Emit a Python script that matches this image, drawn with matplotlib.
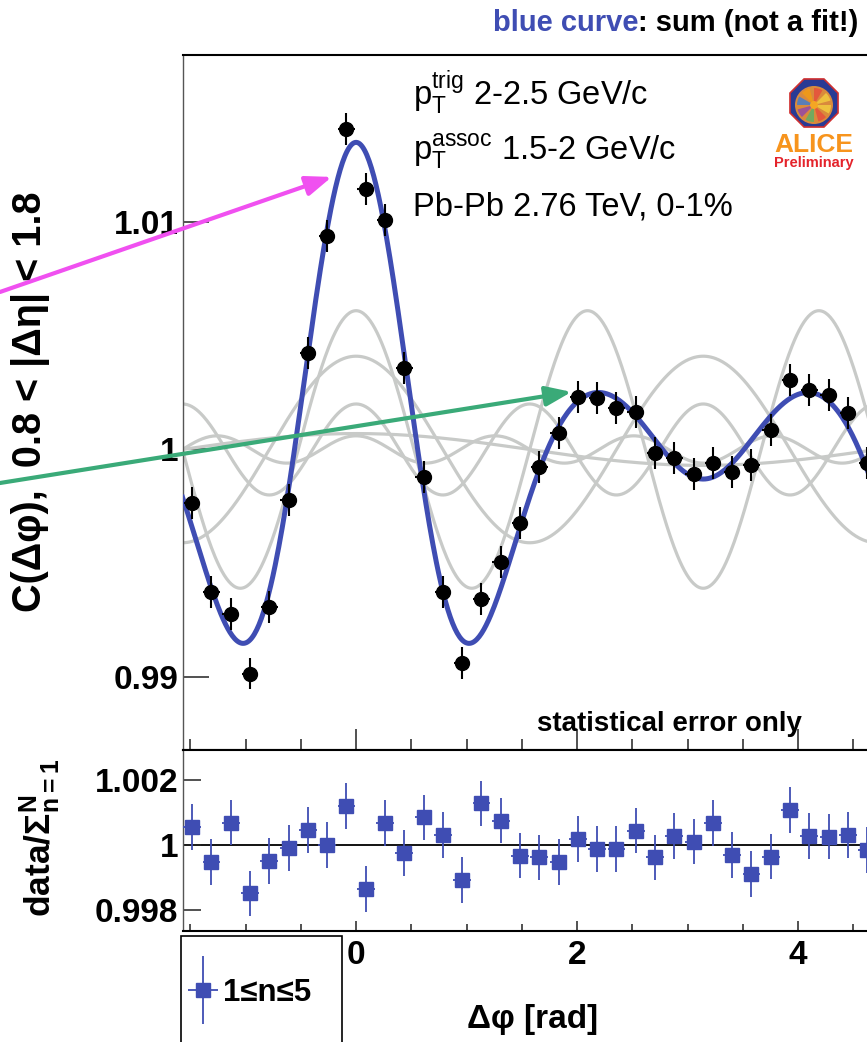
import numpy as np
import matplotlib
matplotlib.use('Agg')
import matplotlib.pyplot as plt
from matplotlib.patches import Rectangle, Circle, RegularPolygon, Wedge
from matplotlib.ticker import MultipleLocator, FixedLocator
from matplotlib.container import ErrorbarContainer
from matplotlib.legend_handler import HandlerErrorbar

plt.rcParams['font.family'] = ['Liberation Sans', 'DejaVu Sans']
plt.rcParams['mathtext.default'] = 'regular'

W, H = 867, 1042

# 36 bins between -pi/2 and 3pi/2
n_bins = 36
bin_edges = np.linspace(-np.pi / 2, 3 * np.pi / 2, n_bins + 1)
dphi = 0.5 * (bin_edges[:-1] + bin_edges[1:])

# C(dphi) data points
corr_val = [0.99764, 0.99375, 0.99277, 0.99015, 0.99309, 0.99778, 1.00425, 1.00938,
            1.01407, 1.01145, 1.01009, 1.00357, 0.99880, 0.99375, 0.99060, 0.99342,
            0.99507, 0.99678, 0.99924, 1.00071, 1.00232, 1.00225, 1.00181, 1.00166,
            0.99983, 0.99961, 0.99892, 0.99939, 0.99902, 0.99932, 1.00086, 1.00305,
            1.00262, 1.00240, 1.00159, 0.99942]
corr_err = [0.0007] * n_bins

# data / sum of harmonics
ratio_val = [1.00056, 0.99947, 1.00069, 0.99851, 0.99951, 0.99990, 1.00046, 1.00000,
             1.00120, 0.99864, 1.00067, 0.99976, 1.00085, 1.00031, 0.99892, 1.00128,
             1.00075, 0.99967, 0.99962, 0.99947, 1.00019, 0.99988, 0.99988, 1.00044,
             0.99962, 1.00028, 1.00010, 1.00067, 0.99969, 0.99911, 0.99964, 1.00108,
             1.00028, 1.00026, 1.00031, 0.99985]
ratio_err = [0.0007] * n_bins

# Fourier components 2 V_n cos(n dphi), n = 1..5
harm_order = [1, 2, 3, 4, 5]
harm_amp = [0.0007, 0.0041, 0.0061, 0.0020, 0.0006]

blue = '#3f4db3'
grey = '#c8cac8'


def px_rect(x0, y0, x1, y1):
    # pixel box (from top left) -> figure fraction rect
    return [x0 / W, 1 - y1 / H, (x1 - x0) / W, (y1 - y0) / H]


fig = plt.figure(figsize=(W / 100, H / 100), dpi=100)
ax = fig.add_axes(px_rect(182.5, 55, 876.8, 750))
axr = fig.add_axes(px_rect(182.5, 750, 876.8, 930.5))

# harmonics and their sum
phi_fine = np.linspace(-np.pi / 2, 3 * np.pi / 2, 600)
total = np.ones_like(phi_fine)
for n, a in zip(harm_order, harm_amp):
    comp = a * np.cos(n * phi_fine)
    ax.plot(phi_fine, 1 + comp, color=grey, lw=2.3, zorder=2)
    total += comp
ax.plot(phi_fine, total, color=blue, lw=3.6, zorder=3)

ax.errorbar(dphi, corr_val, yerr=corr_err, xerr=0.075, fmt='o', color='black',
            ms=10, elinewidth=1.5, capsize=0, zorder=5)

axr.axhline(1, color='black', lw=1.3, zorder=1)
eb = axr.errorbar(dphi, ratio_val, yerr=ratio_err, xerr=0.08, fmt='s', color=blue,
                  ms=10, elinewidth=1.3, capsize=0, zorder=5)

# axes cosmetics
for a in (ax, axr):
    a.set_xlim(-np.pi / 2, 3 * np.pi / 2)
    a.xaxis.set_major_locator(FixedLocator([0, 2, 4]))
    a.xaxis.set_minor_locator(MultipleLocator(0.5))
    a.spines['right'].set_visible(False)
    a.spines['left'].set_linewidth(1.0)
    a.spines['left'].set_color('#555555')
    a.spines['top'].set_linewidth(1.5)
    a.spines['bottom'].set_linewidth(1.5)
    a.tick_params(which='both', direction='in', top=False, right=False,
                  color='#222222', width=1.1)

ax.set_ylim(0.98679, 1.01734)
axr.set_ylim(0.997369, 1.002923)

ax.tick_params(axis='x', which='major', length=15, labelbottom=False)
ax.tick_params(axis='x', which='minor', length=8)
ax.set_yticks([0.99, 1.0, 1.01], labels=['0.99', '1', '1.01'], fontsize=24, fontweight='bold')
ax.tick_params(axis='y', which='major', length=19, pad=3)

axr.set_yticks([0.998, 1.0, 1.002], labels=['0.998', '1', '1.002'], fontsize=24, fontweight='bold')
axr.tick_params(axis='y', which='major', length=13, pad=3)
axr.set_xticks([0, 2, 4], labels=['0', '2', '4'], fontsize=24, fontweight='bold')
axr.tick_params(axis='x', which='major', length=7, pad=7)
axr.tick_params(axis='x', which='minor', length=5)

# axis titles
ax.set_ylabel('C(Δφ),  0.8 < |Δη| < 1.8', fontsize=28.5, fontweight='bold', va='center')
ax.yaxis.set_label_coords(31 / W, 1 - 402 / H, transform=fig.transFigure)
axr.set_ylabel('data/$Σ_{n=1}^{N}$', fontsize=25.5, fontweight='bold', va='center')
axr.yaxis.set_label_coords(40 / W, 1 - 838 / H, transform=fig.transFigure)
axr.set_xlabel('Δφ [rad]', fontsize=24, fontweight='bold', va='baseline')
axr.xaxis.set_label_coords(533 / W, 1 - 1028 / H, transform=fig.transFigure)

# text in the main panel
info = ['$p_{T}^{trig}$ 2-2.5 GeV/c', '$p_{T}^{assoc}$ 1.5-2 GeV/c', 'Pb-Pb 2.76 TeV, 0-1%']
for txt, yb in zip(info, [105, 160, 215]):
    fig.text(413 / W, 1 - yb / H, txt, fontsize=23.5, va='baseline', ha='left')
fig.text(537 / W, 1 - 731 / H, 'statistical error only', fontsize=20, fontweight='bold',
         va='baseline')

# title, two colours
t1 = fig.text(493 / W, 1 - 31 / H, 'blue curve', color=blue, fontsize=21,
              fontweight='bold', va='baseline')
bb = t1.get_window_extent(renderer=fig.canvas.get_renderer())
fig.text(bb.x1 / W, 1 - 31 / H, ': sum (not a fit!)', fontsize=21, fontweight='bold',
         va='baseline')

# arrows coming in from the left
ax.annotate('', xy=(-0.22, 1.01198), xycoords='data', xytext=(0, 1 - 292 / H),
            textcoords='figure fraction', zorder=10,
            arrowprops=dict(arrowstyle='-|>,head_length=1.3,head_width=0.5',
                            color='#f050f0', lw=3, shrinkA=0, shrinkB=0, mutation_scale=12))
ax.annotate('', xy=(1.95, 1.00253), xycoords='data', xytext=(0, 1 - 483 / H),
            textcoords='figure fraction', zorder=10,
            arrowprops=dict(arrowstyle='-|>,head_length=1.3,head_width=0.5',
                            color='#3aaa78', lw=3, shrinkA=0, shrinkB=0, mutation_scale=12))

# legend box
fig.add_artist(Rectangle((181 / W, -0.01), (342 - 181) / W, (1042 - 936) / H + 0.01,
                         transform=fig.transFigure, fill=False, edgecolor='black', lw=1.2))
fig.legend([eb], ['1≤n≤5'], loc='center left', bbox_to_anchor=(188.5 / W, 1 - 993 / H),
           frameon=False, prop={'weight': 'bold', 'size': 22.5}, handlelength=0.95,
           handletextpad=0.15, borderpad=0, borderaxespad=0,
           handler_map={ErrorbarContainer: HandlerErrorbar(xerr_size=0.48, yerr_size=1.1)})

# small ALICE logo
lax = fig.add_axes(px_rect(770, 75, 860, 172))
lax.set_xlim(0, 90)
lax.set_ylim(97, 0)
lax.axis('off')
lax.add_patch(RegularPolygon((44, 28), numVertices=8, radius=26, orientation=np.pi / 8,
                             facecolor='#283a94', edgecolor='#d03030', lw=1.2))
lax.add_patch(Circle((44, 30), 19, facecolor='#d98a3c', edgecolor='none'))
wedge_colors = ['#f4d03f', '#e74c3c', '#58b368', '#8e44ad', '#3a7bd5', '#f39c12', '#e74c3c', '#f4d03f']
for k, c in enumerate(wedge_colors):
    lax.add_patch(Wedge((44, 30), 17, k * 45, k * 45 + 30, facecolor=c, alpha=0.8, edgecolor='none'))
lax.add_patch(Circle((44, 30), 4, facecolor='#f5a623', edgecolor='none'))
lax.text(44, 77, 'ALICE', color='#f7941d', fontsize=19, fontweight='bold', ha='center', va='baseline')
lax.text(44, 92, 'Preliminary', color='#e4232b', fontsize=10.5, fontweight='bold', ha='center',
         va='baseline')

fig.savefig('out.png', dpi=100)
